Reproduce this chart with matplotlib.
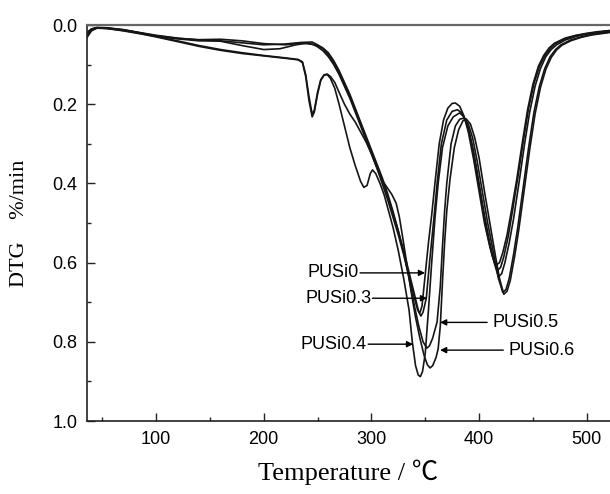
import numpy as np
import matplotlib
matplotlib.use('Agg')
import matplotlib.pyplot as plt
from matplotlib.ticker import MultipleLocator

# DTG curves, temperature (C) / DTG (%/min)
t_pusi0 = [35, 40, 45, 55, 70, 85, 100, 120, 140, 160, 180, 200, 220, 235, 245, 250, 255, 260, 265,
           270, 275, 280, 285, 290, 295, 300, 305, 310, 315, 320, 325, 330, 335, 340, 343, 345, 347,
           350, 353, 356, 359, 363, 367, 371, 375, 378, 382, 386, 390, 395, 400, 405, 410, 413, 416,
           419, 422, 426, 430, 435, 440, 445, 450, 455, 460, 465, 470, 480, 490, 500, 510, 521]
d_pusi0 = [0.030, 0.012, 0.007, 0.008, 0.013, 0.020, 0.027, 0.034, 0.037, 0.036, 0.040, 0.047, 0.050,
           0.046, 0.048, 0.055, 0.065, 0.080, 0.100, 0.125, 0.155, 0.185, 0.220, 0.255, 0.290, 0.325,
           0.360, 0.400, 0.440, 0.485, 0.530, 0.580, 0.635, 0.690, 0.720, 0.727, 0.710, 0.630, 0.550,
           0.480, 0.400, 0.300, 0.240, 0.210, 0.198, 0.197, 0.205, 0.230, 0.270, 0.340, 0.420, 0.500,
           0.560, 0.590, 0.606, 0.600, 0.575, 0.530, 0.470, 0.390, 0.300, 0.215, 0.150, 0.105, 0.077,
           0.058, 0.046, 0.033, 0.026, 0.021, 0.017, 0.014]

t_pusi03 = [35, 40, 45, 55, 70, 85, 100, 120, 140, 160, 180, 200, 215, 230, 240, 250, 255, 260, 265,
            270, 275, 280, 285, 290, 295, 300, 305, 310, 315, 320, 325, 330, 335, 340, 344, 346, 348,
            351, 354, 358, 361, 365, 370, 375, 380, 384, 388, 392, 397, 402, 407, 412, 417, 420, 423,
            427, 431, 436, 441, 446, 451, 456, 461, 466, 471, 480, 490, 500, 510, 521]
d_pusi03 = [0.035, 0.015, 0.008, 0.008, 0.012, 0.019, 0.026, 0.033, 0.038, 0.041, 0.052, 0.062, 0.060,
            0.050, 0.046, 0.052, 0.060, 0.075, 0.095, 0.120, 0.150, 0.180, 0.215, 0.250, 0.285, 0.320,
            0.355, 0.390, 0.430, 0.475, 0.520, 0.570, 0.625, 0.680, 0.725, 0.735, 0.725, 0.690, 0.600,
            0.490, 0.400, 0.300, 0.240, 0.218, 0.214, 0.222, 0.245, 0.285, 0.355, 0.440, 0.520, 0.580,
            0.620, 0.612, 0.585, 0.535, 0.470, 0.385, 0.295, 0.210, 0.148, 0.105, 0.078, 0.060, 0.047,
            0.035, 0.027, 0.022, 0.018, 0.015]

t_pusi04 = [35, 40, 45, 55, 70, 85, 100, 120, 140, 160, 180, 200, 220, 232, 236, 239, 242, 245, 247,
            250, 253, 256, 259, 262, 266, 270, 275, 280, 285, 290, 293, 296, 299, 301, 304, 308, 312,
            316, 320, 325, 330, 335, 338, 341, 343.5, 345.5, 347.5, 350, 353, 356, 359, 362, 366, 371,
            376, 382, 386, 390, 395, 400, 405, 410, 414, 418, 421, 424, 428, 432, 437, 442, 447, 452,
            457, 462, 467, 472, 480, 490, 500, 510, 521]
d_pusi04 = [0.020, 0.010, 0.007, 0.009, 0.015, 0.022, 0.030, 0.042, 0.054, 0.064, 0.072, 0.078, 0.084,
            0.088, 0.095, 0.130, 0.190, 0.232, 0.220, 0.175, 0.140, 0.127, 0.125, 0.135, 0.160, 0.200,
            0.255, 0.310, 0.355, 0.395, 0.410, 0.405, 0.375, 0.366, 0.375, 0.400, 0.430, 0.470, 0.510,
            0.570, 0.640, 0.720, 0.800, 0.860, 0.884, 0.888, 0.875, 0.830, 0.720, 0.600, 0.490, 0.400,
            0.310, 0.255, 0.232, 0.222, 0.232, 0.260, 0.320, 0.400, 0.480, 0.550, 0.600, 0.636, 0.628,
            0.600, 0.550, 0.490, 0.400, 0.305, 0.220, 0.155, 0.110, 0.080, 0.062, 0.050, 0.038, 0.029,
            0.023, 0.019, 0.016]

t_pusi05 = [35, 40, 45, 55, 70, 85, 100, 120, 140, 160, 180, 200, 220, 235, 245, 250, 255, 260, 265,
            270, 275, 280, 285, 290, 295, 300, 305, 310, 315, 320, 325, 330, 335, 340, 344, 348, 351.5,
            354, 357, 361, 364, 366, 368, 370, 374, 378, 382, 386, 390, 394, 398, 403, 408, 413, 418,
            422, 425, 428, 432, 436, 441, 446, 451, 456, 461, 466, 471, 476, 485, 495, 505, 521]
d_pusi05 = [0.028, 0.010, 0.006, 0.007, 0.012, 0.020, 0.028, 0.035, 0.040, 0.040, 0.045, 0.050, 0.048,
            0.044, 0.043, 0.050, 0.058, 0.070, 0.090, 0.115, 0.145, 0.175, 0.210, 0.245, 0.280, 0.315,
            0.350, 0.385, 0.425, 0.470, 0.520, 0.575, 0.640, 0.710, 0.760, 0.800, 0.816, 0.810, 0.790,
            0.750, 0.660, 0.560, 0.470, 0.400, 0.300, 0.255, 0.238, 0.235, 0.250, 0.285, 0.340, 0.420,
            0.500, 0.570, 0.640, 0.675, 0.668, 0.640, 0.580, 0.510, 0.410, 0.310, 0.220, 0.155, 0.110,
            0.080, 0.062, 0.050, 0.038, 0.030, 0.024, 0.018]

t_pusi06 = [35, 40, 45, 55, 70, 85, 100, 120, 140, 160, 180, 200, 220, 232, 236, 239, 242, 245, 247,
            250, 253, 256, 259, 262, 266, 270, 275, 280, 285, 290, 295, 300, 305, 310, 315, 319, 323,
            326, 329, 333, 337, 341, 345, 349, 352, 354.5, 357, 360, 362, 364, 366, 368, 370, 373, 377,
            381, 385, 388, 392, 396, 400, 405, 410, 415, 419, 423, 426, 429, 433, 437, 442, 447, 452,
            457, 462, 467, 472, 477, 485, 495, 505, 521]
d_pusi06 = [0.025, 0.012, 0.008, 0.009, 0.014, 0.021, 0.029, 0.040, 0.052, 0.062, 0.070, 0.077, 0.083,
            0.087, 0.093, 0.125, 0.180, 0.225, 0.215, 0.170, 0.138, 0.126, 0.124, 0.130, 0.145, 0.170,
            0.200, 0.225, 0.245, 0.270, 0.295, 0.325, 0.360, 0.392, 0.412, 0.428, 0.450, 0.485, 0.535,
            0.605, 0.675, 0.738, 0.790, 0.835, 0.858, 0.866, 0.860, 0.840, 0.818, 0.760, 0.650, 0.550,
            0.470, 0.390, 0.310, 0.265, 0.242, 0.237, 0.250, 0.285, 0.335, 0.420, 0.500, 0.580, 0.640,
            0.680, 0.672, 0.645, 0.585, 0.515, 0.415, 0.315, 0.225, 0.158, 0.112, 0.082, 0.063, 0.051,
            0.040, 0.031, 0.025, 0.019]

series = [(t_pusi0, d_pusi0), (t_pusi03, d_pusi03), (t_pusi04, d_pusi04),
          (t_pusi05, d_pusi05), (t_pusi06, d_pusi06)]

# label text, arrow tail (x, y), arrow tip (x, y)
labels = ['PUSi0', 'PUSi0.3', 'PUSi0.4', 'PUSi0.5', 'PUSi0.6']
label_tail = [(289.5, 0.626), (301.0, 0.690), (297.0, 0.806), (407.5, 0.751), (422.5, 0.821)]
label_tip = [(349.8, 0.626), (351.7, 0.690), (338.7, 0.806), (363.8, 0.751), (363.8, 0.821)]

plt.rcParams['font.family'] = ['Liberation Sans', 'DejaVu Sans']

fig = plt.figure(figsize=(6.10, 4.94), dpi=100)
ax = fig.add_axes([87 / 610, 73 / 494, 523 / 610, 396 / 494])

for t, d in series:
    ax.plot(t, d, color='#151515', lw=1.2)

for name, tail, tip in zip(labels, label_tail, label_tip):
    ax.annotate('', xy=tip, xytext=tail,
                arrowprops=dict(arrowstyle='-|>', color='k', lw=1.0,
                                mutation_scale=9, shrinkA=0, shrinkB=0))
    if tail[0] < tip[0]:
        ax.text(tail[0] - 1, tail[1], name, ha='right', va='center', fontsize=13)
    else:
        ax.text(tail[0] + 5, tail[1], name, ha='left', va='center', fontsize=13)

ax.set_xlim(35.9, 521.6)
ax.set_ylim(1.0, 0.0)
ax.xaxis.set_major_locator(MultipleLocator(100))
ax.xaxis.set_minor_locator(MultipleLocator(50))
ax.yaxis.set_major_locator(MultipleLocator(0.2))
ax.yaxis.set_minor_locator(MultipleLocator(0.1))
ax.set_yticks([0.0, 0.2, 0.4, 0.6, 0.8, 1.0], ['0.0', '0.2', '0.4', '0.6', '0.8', '1.0'])

ax.tick_params(which='both', direction='in', labelsize=13, pad=7, width=1.0, color='#222222')
ax.tick_params(which='major', length=6)
ax.tick_params(which='minor', length=3)

ax.spines['right'].set_visible(False)
ax.spines['top'].set_color('#666666')
ax.spines['top'].set_linewidth(1.6)
for side in ['left', 'bottom']:
    ax.spines[side].set_color('#222222')
    ax.spines[side].set_linewidth(1.2)

ax.set_xlabel('Temperature / \u2103', fontsize=19,
              family=['Liberation Serif', 'Noto Sans CJK SC'])
ax.set_ylabel('DTG    %/min', fontsize=16, family=['Liberation Serif', 'DejaVu Serif'])
ax.xaxis.set_label_coords(0.5, -0.098)
ax.yaxis.set_label_coords(-0.11, 0.5)

fig.savefig('out.png', dpi=100)
